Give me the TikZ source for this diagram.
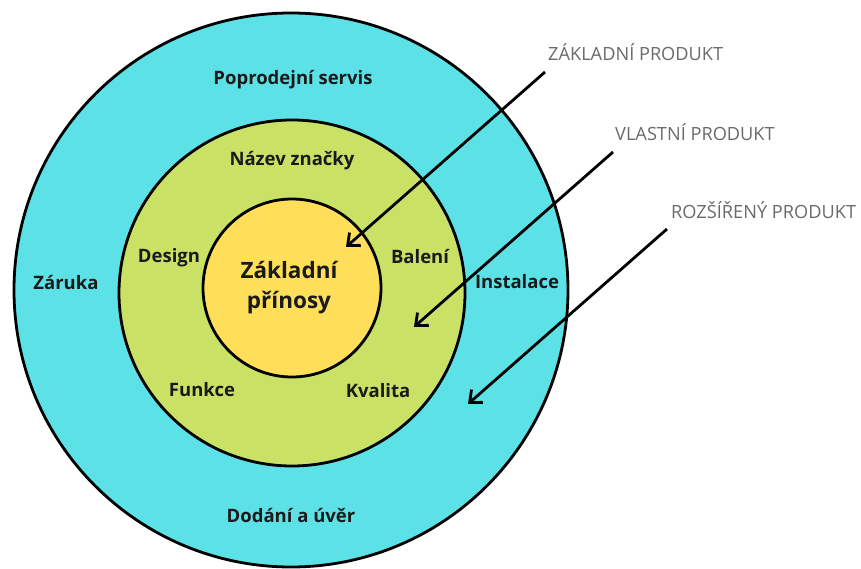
\documentclass[tikz,border=0pt]{standalone}
\usepackage{fontspec}
\setmainfont{Open Sans}
\usetikzlibrary{arrows.meta}
\definecolor{ringout}{HTML}{5CE1E6}
\definecolor{ringmid}{HTML}{C9E265}
\definecolor{ringin}{HTML}{FFDE59}
\definecolor{ink}{HTML}{1A1A1A}
\definecolor{tag}{HTML}{6A6A6A}
\tikzset{
  ring/.style={circle, draw=black, line width=2.8pt, inner sep=0pt},
  part/.style={font=\bfseries\fontsize{18.5}{20}\selectfont, text=ink, inner sep=0pt},
  core/.style={font=\bfseries\fontsize{22.5}{30}\selectfont, text=ink, align=center, inner sep=0pt},
  level/.style={font=\fontsize{18.2}{20}\selectfont, text=tag, inner sep=0pt},
  pointer/.style={line width=2.8pt, -{Straight Barb[length=10pt,width=17pt,line width=2.8pt]}}
}
\begin{document}
\begin{tikzpicture}[x=1pt,y=-1pt]
  \useasboundingbox (0,0) rectangle (861,569);
  % three nested layers of the product
  \node[ring, fill=ringout, minimum size=554pt] (outer) at (291,290) {};
  \node[ring, fill=ringmid, minimum size=346pt] (middle) at (292,293) {};
  \node[ring, fill=ringin, minimum size=178pt] (inner) at (292,288) {};

  % core
  \node[core] (benefits) at (289,288) {Základní\\přínosy};

  % actual product
  \node[part] (brand) at (292,161) {Název značky};
  \node[part] (design) at (169,258) {Design};
  \node[part] (pack) at (420,257) {Balení};
  \node[part] (function) at (202,390) {Funkce};
  \node[part] (quality) at (378,391) {Kvalita};

  % augmented product
  \node[part] (service) at (293,80) {Poprodejní servis};
  \node[part] (warranty) at (66,283) {Záruka};
  \node[part] (install) at (517,282) {Instalace};
  \node[part] (delivery) at (291,515) {Dodání a úvěr};

  % level captions
  \node[level, anchor=west] (lcore) at (548,52) {ZÁKLADNÍ PRODUKT};
  \node[level, anchor=west] (lactual) at (615,132) {VLASTNÍ PRODUKT};
  \node[level, anchor=west] (laug) at (671,210) {ROZŠÍŘENÝ PRODUKT};

  % pointer ends
  \coordinate (pcore0) at (545,72);
  \coordinate (pcore1) at (346,247);
  \coordinate (pact0) at (613,152);
  \coordinate (pact1) at (414,327);
  \coordinate (paug0) at (667,229);
  \coordinate (paug1) at (468,404);

  \draw[pointer] (pcore0) -- (pcore1);
  \draw[pointer] (pact0) -- (pact1);
  \draw[pointer] (paug0) -- (paug1);
\end{tikzpicture}
\end{document}
